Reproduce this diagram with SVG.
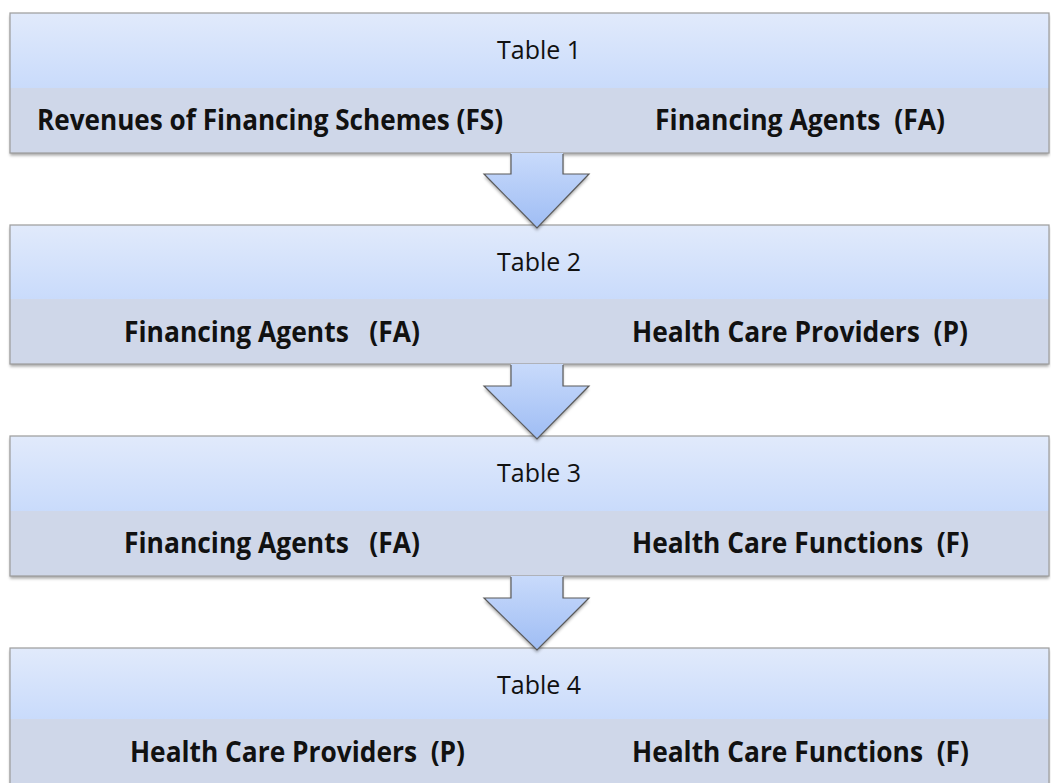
<svg xmlns="http://www.w3.org/2000/svg" width="1051" height="783" viewBox="0 0 1051 783">
<defs>
<linearGradient id="topg" x1="0" y1="0" x2="0" y2="1">
<stop offset="0" stop-color="#e1eafb"/>
<stop offset="1" stop-color="#c9dbfb"/>
</linearGradient>
<linearGradient id="arrg" x1="0" y1="0" x2="0" y2="1">
<stop offset="0" stop-color="#c8dafb"/>
<stop offset="1" stop-color="#9fbdf4"/>
</linearGradient>
<filter id="sh" x="-5%" y="-10%" width="110%" height="130%">
<feDropShadow dx="0" dy="2.5" stdDeviation="1.5" flood-color="#000" flood-opacity="0.35"/>
</filter>
</defs>
<style>
.top{fill:url(#topg);}
.band{fill:#cfd7e9;}
.frame{fill:none;stroke:#9c9c9c;stroke-width:1.2;}
.title{font-family:"Open Sans","Noto Sans",sans-serif;font-size:25px;fill:#111;text-anchor:middle;}
.lbl{font-family:"Open Sans","Noto Sans",sans-serif;font-size:28.5px;font-weight:bold;fill:#111;}
.afill{fill:url(#arrg);}
.aline{fill:none;stroke:#5a5a5a;stroke-width:1.2;stroke-linejoin:miter;}
</style>
<rect width="1051" height="783" fill="#ffffff"/>
<g id="table1">
<rect x="10" y="13" width="1039" height="140" class="band" filter="url(#sh)"/>
<rect x="10" y="13" width="1039" height="75" class="top"/>
<rect x="10" y="13" width="1039" height="140" class="frame"/>
<text x="539" y="59" class="title" textLength="84" lengthAdjust="spacingAndGlyphs">Table 1</text>
<text x="37" y="130" class="lbl" xml:space="preserve" textLength="466" lengthAdjust="spacingAndGlyphs">Revenues of Financing Schemes (FS)</text>
<text x="655" y="130" class="lbl" xml:space="preserve" textLength="290" lengthAdjust="spacingAndGlyphs">Financing Agents  (FA)</text>
</g>
<g id="table2">
<rect x="10" y="225" width="1039" height="139" class="band" filter="url(#sh)"/>
<rect x="10" y="225" width="1039" height="74" class="top"/>
<rect x="10" y="225" width="1039" height="139" class="frame"/>
<text x="539" y="271" class="title" textLength="84" lengthAdjust="spacingAndGlyphs">Table 2</text>
<text x="124" y="342" class="lbl" xml:space="preserve" textLength="296" lengthAdjust="spacingAndGlyphs">Financing Agents   (FA)</text>
<text x="632" y="342" class="lbl" xml:space="preserve" textLength="336" lengthAdjust="spacingAndGlyphs">Health Care Providers  (P)</text>
</g>
<g id="table3">
<rect x="10" y="436" width="1039" height="140" class="band" filter="url(#sh)"/>
<rect x="10" y="436" width="1039" height="75" class="top"/>
<rect x="10" y="436" width="1039" height="140" class="frame"/>
<text x="539" y="482" class="title" textLength="84" lengthAdjust="spacingAndGlyphs">Table 3</text>
<text x="124" y="553" class="lbl" xml:space="preserve" textLength="296" lengthAdjust="spacingAndGlyphs">Financing Agents   (FA)</text>
<text x="632" y="553" class="lbl" xml:space="preserve" textLength="337" lengthAdjust="spacingAndGlyphs">Health Care Functions  (F)</text>
</g>
<g id="table4">
<rect x="10" y="648" width="1039" height="140" class="band" filter="url(#sh)"/>
<rect x="10" y="648" width="1039" height="71" class="top"/>
<rect x="10" y="648" width="1039" height="140" class="frame"/>
<text x="539" y="694" class="title" textLength="84" lengthAdjust="spacingAndGlyphs">Table 4</text>
<text x="130" y="762" class="lbl" xml:space="preserve" textLength="335" lengthAdjust="spacingAndGlyphs">Health Care Providers  (P)</text>
<text x="632" y="762" class="lbl" xml:space="preserve" textLength="337" lengthAdjust="spacingAndGlyphs">Health Care Functions  (F)</text>
</g>
<g id="connectors">
<g filter="url(#sh)">
<polygon class="afill" points="511,153 563,153 563,174 589,174 537,228 484,174 511,174"/>
<polygon class="afill" points="511,364 563,364 563,386 589,386 537,439 484,386 511,386"/>
<polygon class="afill" points="511,576 563,576 563,598 589,598 537,650 484,598 511,598"/>
</g>
<path class="aline" d="M563,154 V174 H589 L537,228 L484,174 H511 V154"/>
<path class="aline" d="M563,365 V386 H589 L537,439 L484,386 H511 V365"/>
<path class="aline" d="M563,577 V598 H589 L537,650 L484,598 H511 V577"/>
</g>
</svg>
